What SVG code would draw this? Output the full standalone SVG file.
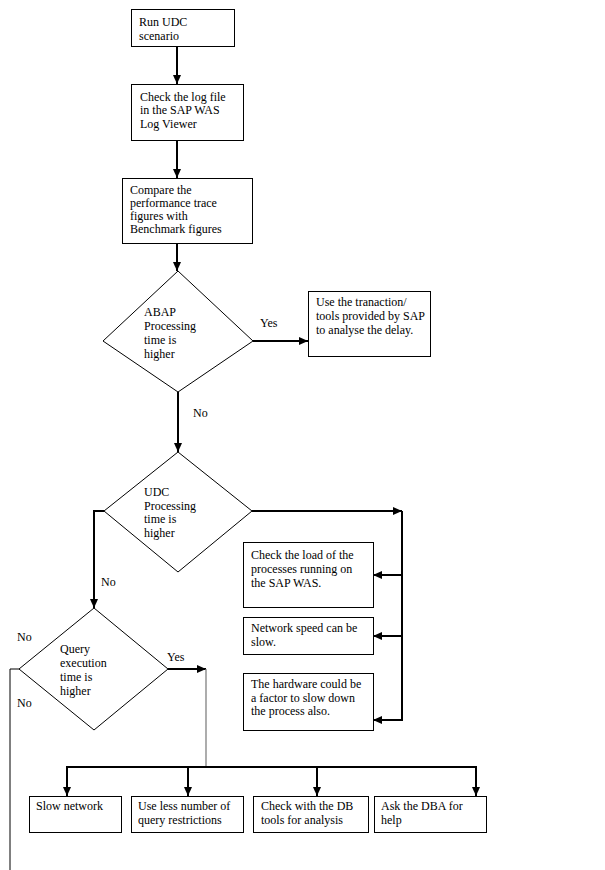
<svg xmlns="http://www.w3.org/2000/svg" width="605" height="870" viewBox="0 0 605 870">
<style>
.box{fill:#fff;stroke:#000;stroke-width:1}
.dia{fill:#fff;stroke:#000;stroke-width:1}
.t{font-family:"Liberation Serif","Times New Roman",serif;font-size:12px;fill:#000}
.c{fill:none;stroke:#000;stroke-width:2}
.a{fill:none;stroke:#000;stroke-width:2;marker-end:url(#ah)}
.thin{fill:none;stroke:#000;stroke-width:1}
.gray{fill:none;stroke:#808080;stroke-width:1.3}
</style>
<defs>
<marker id="ah" markerUnits="userSpaceOnUse" markerWidth="10" markerHeight="10" refX="9" refY="4" orient="auto">
<path d="M0,0 L9,4 L0,8 Z" fill="#000"/>
</marker>
</defs>
<rect width="605" height="870" fill="#fff"/>
<g id="connectors">
<line class="a" x1="177" y1="46" x2="177" y2="84"/>
<line class="a" x1="177" y1="140" x2="177" y2="178"/>
<line class="a" x1="177" y1="243" x2="177" y2="271"/>
<line class="a" x1="253" y1="341" x2="308" y2="341"/>
<line class="a" x1="178" y1="392" x2="178" y2="452"/>
<line class="a" x1="252" y1="511" x2="402" y2="511"/>
<line class="c" x1="402" y1="511" x2="402" y2="721"/>
<line class="a" x1="402" y1="575" x2="373" y2="575"/>
<line class="a" x1="402" y1="636" x2="373" y2="636"/>
<line class="a" x1="402" y1="720" x2="373" y2="720"/>
<polyline class="a" points="104,511 94,511 94,608"/>
<line class="a" x1="168" y1="669" x2="206" y2="669"/>
<line class="gray" x1="206" y1="669" x2="206" y2="767"/>
<line class="c" x1="66" y1="767" x2="477" y2="767"/>
<line class="a" x1="67" y1="767" x2="67" y2="796"/>
<line class="a" x1="188" y1="767" x2="188" y2="796"/>
<line class="a" x1="317" y1="767" x2="317" y2="796"/>
<line class="a" x1="476" y1="767" x2="476" y2="796"/>
<polyline class="thin" points="19,669 10,669 10,870"/>
<text class="t" x="260" y="327">Yes</text>
<text class="t" x="193" y="417">No</text>
<text class="t" x="101" y="586">No</text>
<text class="t" x="17" y="641">No</text>
<text class="t" x="17" y="707">No</text>
<text class="t" x="167" y="661">Yes</text>
</g>
<g id="n1">
<rect class="box" x="131.5" y="9.5" width="103" height="37"/>
<text class="t" x="139" y="26">Run UDC</text>
<text class="t" x="139" y="40">scenario</text>
</g>
<g id="n2">
<rect class="box" x="131.5" y="84.5" width="112" height="56"/>
<text class="t" x="140" y="101">Check the log file</text>
<text class="t" x="140" y="114">in the SAP WAS</text>
<text class="t" x="140" y="128">Log Viewer</text>
</g>
<g id="n3">
<rect class="box" x="122.5" y="178.5" width="130" height="65"/>
<text class="t" x="130" y="194">Compare the</text>
<text class="t" x="130" y="207">performance trace</text>
<text class="t" x="130" y="220">figures with</text>
<text class="t" x="130" y="233">Benchmark figures</text>
</g>
<g id="d1">
<polygon class="dia" points="178,271 253,341 178,392 103,341"/>
<text class="t" x="144" y="316">ABAP</text>
<text class="t" x="144" y="330">Processing</text>
<text class="t" x="144" y="344">time is</text>
<text class="t" x="144" y="358">higher</text>
</g>
<g id="n4">
<rect class="box" x="308.5" y="291.5" width="122" height="65"/>
<text class="t" x="316" y="306">Use the tranaction/</text>
<text class="t" x="316" y="320">tools provided by SAP</text>
<text class="t" x="316" y="334">to analyse the delay.</text>
</g>
<g id="d2">
<polygon class="dia" points="178,452 252,511 178,572 104,511"/>
<text class="t" x="144" y="496">UDC</text>
<text class="t" x="144" y="510">Processing</text>
<text class="t" x="144" y="523">time is</text>
<text class="t" x="144" y="537">higher</text>
</g>
<g id="n5">
<rect class="box" x="243.5" y="542.5" width="130" height="65"/>
<text class="t" x="251" y="559">Check the load of the</text>
<text class="t" x="251" y="573">processes running on</text>
<text class="t" x="251" y="587">the SAP WAS.</text>
</g>
<g id="n6">
<rect class="box" x="243.5" y="617.5" width="130" height="37"/>
<text class="t" x="251" y="632">Network speed can be</text>
<text class="t" x="251" y="646">slow.</text>
</g>
<g id="n7">
<rect class="box" x="243.5" y="673.5" width="130" height="57"/>
<text class="t" x="251" y="688">The hardware could be</text>
<text class="t" x="251" y="702">a factor to slow down</text>
<text class="t" x="251" y="715">the process also.</text>
</g>
<g id="d3">
<polygon class="dia" points="94,608 168,669 94,730 19,669"/>
<text class="t" x="60" y="653">Query</text>
<text class="t" x="60" y="667">execution</text>
<text class="t" x="60" y="681">time is</text>
<text class="t" x="60" y="695">higher</text>
</g>
<g id="n8">
<rect class="box" x="29.5" y="796.5" width="92" height="36"/>
<text class="t" x="36" y="810">Slow network</text>
</g>
<g id="n9">
<rect class="box" x="131.5" y="796.5" width="112" height="36"/>
<text class="t" x="138" y="810">Use less number of</text>
<text class="t" x="138" y="824">query restrictions</text>
</g>
<g id="n10">
<rect class="box" x="253.5" y="796.5" width="115" height="36"/>
<text class="t" x="261" y="810">Check with the DB</text>
<text class="t" x="261" y="824">tools for analysis</text>
</g>
<g id="n11">
<rect class="box" x="374.5" y="796.5" width="112" height="36"/>
<text class="t" x="381" y="810">Ask the DBA for</text>
<text class="t" x="381" y="824">help</text>
</g>
</svg>
